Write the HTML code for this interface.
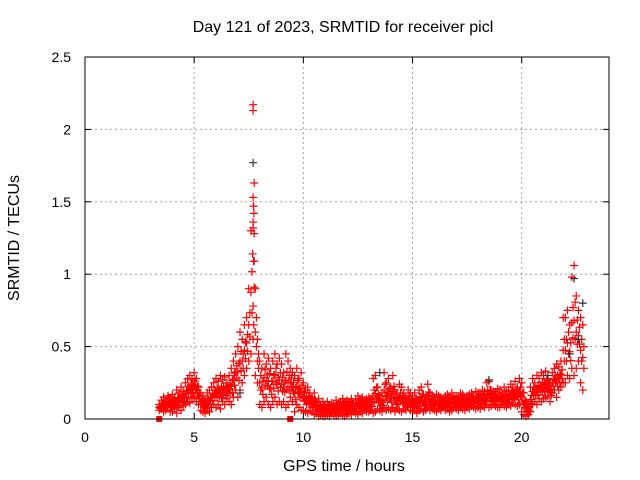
<!DOCTYPE html>
<html><head><meta charset="utf-8"><style>
body{margin:0;background:#fff}
svg{display:block;font-family:"Liberation Sans",sans-serif}
</style></head><body>
<svg id="chart" width="640" height="480" viewBox="0 0 640 480">
<text x="343" y="32" font-size="16" text-anchor="middle">Day 121 of 2023, SRMTID for receiver picl</text>
<text x="344" y="471" font-size="16" text-anchor="middle">GPS time / hours</text>
<text transform="translate(19,238) rotate(-90)" font-size="16" text-anchor="middle">SRMTID / TECUs</text>
<g id="grid"></g>
<g id="marks"></g>
<rect x="85" y="57" width="524" height="362" fill="none" stroke="#000" stroke-width="1"/>
<g id="ticks"></g>
</svg>
<script>
const xTicks=[0,5,10,15,20];
const yTicks=[0,0.5,1,1.5,2,2.5];
const yTickLabels=["0","0.5","1","1.5","2","2.5"];
const times=[3.4,3.5,3.6,3.7,3.8,3.9,
4.0,4.1,4.2,4.3,4.4,4.5,4.6,4.7,4.8,4.9,
5.0,5.1,5.2,5.3,5.4,5.5,5.6,5.7,5.8,5.9,
6.0,6.1,6.2,6.3,6.4,6.5,6.6,6.7,6.8,6.9,
7.0,7.1,7.2,7.3,7.4,7.5,7.6,7.7,7.8,7.9,
8.0,8.1,8.2,8.3,8.4,8.5,8.6,8.7,8.8,8.9,
9.0,9.1,9.2,9.3,9.4,9.5,9.6,9.7,9.8,9.9,
10.0,10.1,10.2,10.3,10.4,10.5,10.6,10.7,10.8,10.9,
11.0,11.1,11.2,11.3,11.4,11.5,11.6,11.7,11.8,11.9,
12.0,12.1,12.2,12.3,12.4,12.5,12.6,12.7,12.8,12.9,
13.0,13.1,13.2,13.3,13.4,13.5,13.6,13.7,13.8,13.9,
14.0,14.1,14.2,14.3,14.4,14.5,14.6,14.7,14.8,14.9,
15.0,15.1,15.2,15.3,15.4,15.5,15.6,15.7,15.8,15.9,
16.0,16.1,16.2,16.3,16.4,16.5,16.6,16.7,16.8,16.9,
17.0,17.1,17.2,17.3,17.4,17.5,17.6,17.7,17.8,17.9,
18.0,18.1,18.2,18.3,18.4,18.5,18.6,18.7,18.8,18.9,
19.0,19.1,19.2,19.3,19.4,19.5,19.6,19.7,19.8,19.9,
20.0,20.1,20.2,20.3,20.4,20.5,20.6,20.7,20.8,20.9,
21.0,21.1,21.2,21.3,21.4,21.5,21.6,21.7,21.8,21.9,
22.0,22.1,22.2,22.3,22.4,22.5,22.6,22.7,22.8];
const lowVals=[.06,.07,.05,.06,.08,.05,
.05,.07,.04,.08,.06,.09,.10,.12,.11,.14,
.15,.12,.10,.06,.05,.04,.06,.05,.08,.10,
.08,.10,.07,.12,.10,.14,.12,.10,.15,.20,
.15,.20,.25,.30,.35,.40,.45,.55,.30,.25,
.10,.08,.12,.15,.10,.08,.12,.15,.10,.12,
.10,.12,.08,.10,.15,.12,.05,.10,.08,.06,
.06,.05,.04,.06,.05,.03,.04,.02,.03,.02,
.02,.03,.02,.04,.03,.02,.03,.04,.03,.02,
.03,.04,.03,.05,.04,.03,.05,.04,.06,.05,
.05,.06,.04,.05,.07,.06,.05,.08,.06,.07,
.06,.08,.05,.07,.06,.05,.07,.06,.08,.06,
.05,.06,.04,.06,.07,.05,.06,.08,.06,.07,
.06,.05,.07,.06,.08,.06,.07,.05,.06,.08,
.07,.06,.08,.07,.06,.08,.07,.09,.08,.07,
.08,.07,.09,.08,.10,.08,.09,.10,.09,.08,
.08,.10,.09,.08,.10,.09,.11,.10,.09,.10,
.05,.03,.02,.03,.05,.10,.12,.10,.14,.12,
.14,.15,.16,.12,.18,.20,.15,.20,.22,.25,
.25,.30,.28,.35,.30,.35,.40,.25,.20];
const highVals=[.10,.13,.15,.12,.16,.14,
.17,.15,.20,.18,.22,.19,.25,.28,.30,.27,
.32,.28,.22,.18,.16,.14,.18,.20,.22,.25,
.28,.26,.30,.27,.29,.25,.30,.35,.40,.45,
.50,.60,.55,.65,.70,.90,1.30,2.17,.90,.55,
.40,.35,.45,.38,.42,.35,.40,.45,.38,.42,
.38,.32,.45,.40,.35,.32,.30,.35,.28,.32,
.25,.20,.22,.18,.15,.18,.12,.14,.10,.12,
.10,.12,.09,.11,.10,.13,.11,.12,.14,.12,
.13,.12,.14,.11,.13,.16,.14,.15,.13,.14,
.15,.14,.28,.30,.22,.16,.18,.32,.25,.28,
.22,.30,.20,.18,.24,.22,.18,.15,.20,.18,
.16,.18,.14,.20,.22,.17,.15,.24,.18,.16,
.15,.17,.16,.15,.14,.16,.17,.15,.18,.16,
.16,.15,.18,.17,.15,.16,.17,.18,.16,.19,
.18,.17,.20,.19,.25,.26,.20,.19,.18,.21,
.20,.18,.22,.19,.20,.24,.22,.26,.22,.28,
.25,.18,.12,.10,.22,.28,.25,.30,.28,.32,
.30,.33,.28,.25,.32,.35,.38,.36,.40,.70,
.70,.75,.65,.98,1.06,.85,.75,.70,.65];
const spikeTimes=[7.7,7.7,7.72,7.74,7.7,7.75,7.68,7.72,7.75,7.7,7.73];
const spikeVals=[2.13,1.53,1.47,1.42,1.32,1.28,1.14,1.09,0.91,0.78,0.65];
const blackTimes=[7.7,22.4,22.8,22.6,22.2,18.5,13.5,7.1,21.2];
const blackVals=[1.77,0.97,0.80,0.55,0.45,0.27,0.32,0.18,0.30];
const squareTimes=[3.4,9.4];
const squareVals=[0,0];

const X0=85,X1=609,Y0=419,Y1=57,XMAX=24,YMAX=2.5;
const xs=v=>X0+(X1-X0)*v/XMAX;
const ys=v=>Y0-(Y0-Y1)*v/YMAX;
const NS="http://www.w3.org/2000/svg";
const grid=document.getElementById('grid'),marks=document.getElementById('marks'),ticks=document.getElementById('ticks');
function mk(tag,attrs,parent){const e=document.createElementNS(NS,tag);for(const k in attrs)e.setAttribute(k,attrs[k]);parent.appendChild(e);return e;}
xTicks.forEach(t=>{
  const x=xs(t);
  if(t>0){const g=mk('line',{x1:x,x2:x,y1:Y0,y2:Y1,stroke:'#a0a0a0','stroke-dasharray':'2,3'},grid);
  
  }
  mk('line',{x1:x,x2:x,y1:Y0,y2:Y0-6,stroke:'#000'},ticks);
  mk('line',{x1:x,x2:x,y1:Y1,y2:Y1+6,stroke:'#000'},ticks);
  const l=mk('text',{x:x,y:Y0+23,'font-size':14,'text-anchor':'middle'},ticks);
  l.textContent=String(t);
  
  
});
yTicks.forEach((t,i)=>{
  const y=ys(t);
  if(t>0&&t<YMAX){const g=mk('line',{x1:X0,x2:X1,y1:y,y2:y,stroke:'#a0a0a0','stroke-dasharray':'2,3'},grid);
  
  }
  mk('line',{x1:X0,x2:X0+6,y1:y,y2:y,stroke:'#000'},ticks);
  mk('line',{x1:X1,x2:X1-6,y1:y,y2:y,stroke:'#000'},ticks);
  const l=mk('text',{x:X0-14,y:y+5,'font-size':14,'text-anchor':'end'},ticks);
  l.textContent=yTickLabels[i];
  
  
});
function plus(t,v,color,name){
  const x=xs(t),y=ys(v);
  const p=mk('path',{d:`M${x-4},${y}H${x+4}M${x},${y-4}V${y+4}`,stroke:color,'stroke-width':1.2,fill:'none'},marks);
  
  
}
times.forEach((t,i)=>{
  const lo=lowVals[i],hi=highVals[i];
  plus(t,lo,'#f00','srmtid-point');
  plus(t,hi,'#f00','srmtid-point');
  plus(t+0.05,(lo*2+hi)/3,'#f00','srmtid-point');
  plus(t,(lo+hi)/2,'#f00','srmtid-point');
  plus(t+0.05,(lo+hi*2)/3,'#f00','srmtid-point');
});
spikeTimes.forEach((t,i)=>plus(t,spikeVals[i],'#f00','srmtid-spike-point'));
blackTimes.forEach((t,i)=>plus(t,blackVals[i],'#333','black-point'));
squareTimes.forEach((t,i)=>{
  const s=mk('rect',{x:xs(t)-3,y:ys(squareVals[i])-3,width:6,height:6,fill:'#f00'},marks);
  
  
});
</script>
</body></html>
